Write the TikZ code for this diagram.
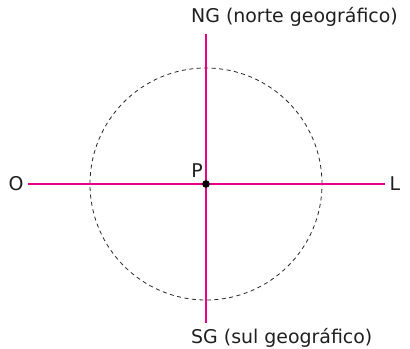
\documentclass[tikz,border=0pt]{standalone}
\usepackage{fontspec}
\setmainfont{DejaVu Sans}
\usepackage{xcolor}
\usetikzlibrary{positioning,calc}
\definecolor{eixo}{RGB}{234,0,132}

\begin{document}
\begin{tikzpicture}[
  x=1bp,y=1bp,
  eixoline/.style={draw=eixo,line width=2bp},
  rotulo/.style={font=\fontsize{19}{22}\selectfont,inner sep=0pt,text=black!88},
  circ/.style={draw=black!85,line width=0.8bp,dash pattern=on 4bp off 3.5bp}
]
\useasboundingbox (0,0) rectangle (410,349);
\coordinate (p) at (206,165);
\draw[circ] (p) circle (116);
\coordinate (oeste) at (28,165);
\coordinate (leste) at (385,165);
\coordinate (norte) at (206,315);
\coordinate (sul) at (206,26);
\draw[eixoline] (oeste) -- (leste);
\draw[eixoline] (norte) -- (sul);
\fill[black] (p) circle (3.8);
\node[rotulo] (o) at (16,165) {O};
\node[rotulo] (l) at (395,165) {L};
\node[rotulo,anchor=south east] (plab) at (203,171) {P};
\node[rotulo,anchor=south west] (ng) at (191,322) {NG (norte geográfico)};
\node[rotulo,anchor=north west] (sg) at (191,21) {SG (sul geográfico)};
\end{tikzpicture}
\end{document}
